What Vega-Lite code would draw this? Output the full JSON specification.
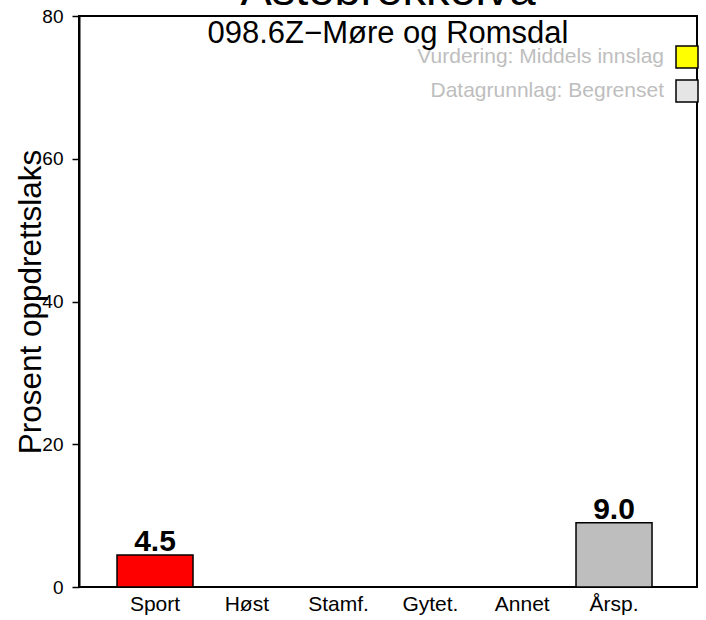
{
  "$schema": "https://vega.github.io/schema/vega-lite/v6.json",
  "width": 618,
  "height": 571,
  "autosize": {"type": "none"},
  "padding": {"left": 79, "top": 16, "right": 9, "bottom": 33},
  "background": "white",
  "config": {
    "font": "Liberation Sans",
    "view": {"stroke": "black", "strokeWidth": 2},
    "axis": {"grid": false, "labelColor": "black", "tickColor": "black", "domainColor": "black", "titleColor": "black", "labelFont": "Liberation Sans", "titleFont": "Liberation Sans"}
  },
  "title": {
    "text": "Astebrekkelva",
    "subtitle": "098.6Z−Møre og Romsdal",
    "font": "Liberation Sans",
    "subtitleFont": "Liberation Sans",
    "fontSize": 47,
    "subtitleFontSize": 31,
    "fontWeight": "normal",
    "color": "black",
    "subtitleColor": "black",
    "anchor": "middle",
    "offset": -43,
    "subtitlePadding": 4
  },
  "datasets": {
    "bars": [
      {"kategori": "Sport", "prosent": 4.5},
      {"kategori": "Høst", "prosent": null},
      {"kategori": "Stamf.", "prosent": null},
      {"kategori": "Gytet.", "prosent": null},
      {"kategori": "Annet", "prosent": null},
      {"kategori": "Årsp.", "prosent": 9.0}
    ],
    "legende": [
      {"tekst": "Vurdering: Middels innslag"},
      {"tekst": "Datagrunnlag: Begrenset"}
    ]
  },
  "layer": [
    {
      "data": {"name": "bars"},
      "mark": {"type": "bar", "stroke": "black", "strokeWidth": 1.5},
      "encoding": {
        "x": {
          "field": "kategori",
          "type": "nominal",
          "sort": null,
          "scale": {"domain": ["Sport", "Høst", "Stamf.", "Gytet.", "Annet", "Årsp."], "paddingInner": 0.172, "paddingOuter": 0.452, "align": 0.458},
          "axis": {"title": null, "labelAngle": 0, "labelFontSize": 21, "ticks": false, "domain": false, "labelPadding": 6}
        },
        "y": {
          "field": "prosent",
          "type": "quantitative",
          "scale": {"domain": [0, 80], "nice": false, "zero": true},
          "axis": {"title": "Prosent oppdrettslaks", "titleFontSize": 31.5, "titleFontWeight": "normal", "values": [0, 20, 40, 60, 80], "labelFontSize": 19, "tickSize": 7, "tickWidth": 1.5, "domainWidth": 2, "labelPadding": 9, "titlePadding": -6}
        },
        "fill": {
          "field": "kategori",
          "type": "nominal",
          "scale": {"domain": ["Sport", "Høst", "Stamf.", "Gytet.", "Annet", "Årsp."], "range": ["#FF0000", "#FFFFFF", "#FFFFFF", "#FFFFFF", "#FFFFFF", "#BEBEBE"]},
          "legend": null
        }
      }
    },
    {
      "data": {"name": "bars"},
      "transform": [{"filter": "datum.prosent != null"}],
      "mark": {"type": "text", "fontSize": 30, "fontWeight": "bold", "baseline": "alphabetic", "dy": -4, "color": "black"},
      "encoding": {
        "x": {"field": "kategori", "type": "nominal", "sort": null},
        "y": {"field": "prosent", "type": "quantitative"},
        "text": {"field": "prosent", "type": "quantitative", "format": ".1f"}
      }
    },
    {
      "data": {"name": "legende"},
      "mark": {"type": "point", "shape": "square", "filled": true, "opacity": 0, "stroke": "black", "strokeWidth": 1.5},
      "encoding": {
        "fill": {
          "field": "tekst",
          "type": "nominal",
          "scale": {"domain": ["Vurdering: Middels innslag", "Datagrunnlag: Begrenset"], "range": ["#FFFF00", "#E5E5E5"]},
          "legend": {
            "title": null,
            "orient": "none",
            "legendX": 596,
            "legendY": 29,
            "padding": 0,
            "symbolType": "square",
            "symbolSize": 484,
            "symbolStrokeColor": "black",
            "symbolStrokeWidth": 1.5,
            "symbolOpacity": 1,
            "labelFontSize": 21,
            "labelFont": "Liberation Sans",
            "labelColor": "#BEBEBE",
            "labelAlign": "right",
            "labelOffset": -35,
            "labelLimit": 0,
            "rowPadding": 6
          }
        }
      }
    }
  ],
  "resolve": {"scale": {"fill": "independent"}}
}
